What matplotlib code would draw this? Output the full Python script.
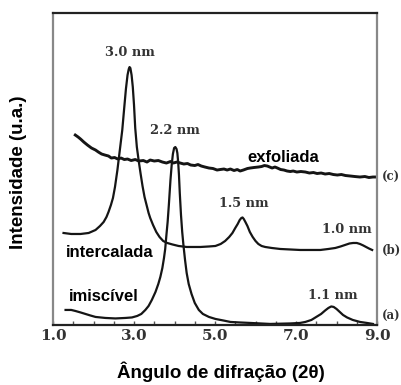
import numpy as np
import matplotlib
matplotlib.use('Agg')
import matplotlib.pyplot as plt
from matplotlib.ticker import MultipleLocator, FixedLocator

# Curve (a) imiscivel
a_x = [1.31, 1.45, 1.55, 1.68, 1.80, 1.92, 2.05, 2.29, 2.54, 2.79, 2.95, 3.08, 3.18, 3.28, 3.36,
       3.44, 3.53, 3.60, 3.65, 3.70, 3.74, 3.77, 3.80, 3.83, 3.86, 3.90, 3.93, 3.96, 3.99, 4.02,
       4.05, 4.07, 4.09, 4.11, 4.13, 4.16, 4.19, 4.22, 4.26, 4.30, 4.35, 4.42, 4.50, 4.60, 4.70,
       4.85, 5.01, 5.20, 5.38, 5.60, 5.87, 6.36, 6.86, 7.10, 7.23, 7.38, 7.50, 7.62, 7.72, 7.80,
       7.87, 7.93, 8.00, 8.08, 8.16, 8.26, 8.40, 8.58, 8.75, 8.90]
a_y = [15, 15, 14, 12.5, 11, 9.5, 8, 7, 6.5, 7, 7.5, 9, 11, 15, 19,
       25, 33, 41, 48, 57, 67, 76, 90, 103, 120, 145, 160, 171, 177, 178,
       176, 172, 163, 150, 132, 110, 93, 80, 65, 52, 41, 31, 22, 15, 11,
       8, 6, 4.5, 3, 2.5, 2, 1, 1.5, 2, 3, 5, 8, 11, 14.5, 17,
       18.5, 18, 16, 13, 10, 7.5, 5, 3, 2, 1]

# Curve (b) intercalada
b_x = [1.26, 1.45, 1.68, 1.88, 2.05, 2.16, 2.25, 2.32, 2.37, 2.43, 2.48, 2.53, 2.59, 2.65, 2.71,
       2.76, 2.80, 2.84, 2.87, 2.89, 2.91, 2.94, 2.97, 3.00, 3.03, 3.07, 3.12, 3.16, 3.21, 3.26,
       3.31, 3.36, 3.40, 3.47, 3.55, 3.63, 3.72, 3.82, 3.95, 4.10, 4.30, 4.64, 4.85, 5.01, 5.14,
       5.25, 5.35, 5.43, 5.50, 5.56, 5.61, 5.65, 5.68, 5.71, 5.75, 5.80, 5.86, 5.93, 6.00, 6.07,
       6.15, 6.24, 6.40, 6.61, 7.10, 7.60, 7.80, 7.97, 8.10, 8.21, 8.32, 8.41, 8.50, 8.58, 8.66,
       8.73, 8.80, 8.88]
b_y = [92, 91, 91, 92, 95, 99, 103, 108, 113, 120, 127, 138, 155, 175, 195,
       218, 236, 250, 256, 258, 257, 250, 238, 220, 197, 178, 163, 152, 139, 128,
       120, 112, 107, 100, 93, 88, 84, 82, 80.5, 79, 78, 78, 78.5, 79, 81,
       84, 88, 92, 97, 101, 105, 107, 107.5, 106, 103, 99, 93, 88, 84, 81,
       79, 78, 77, 76, 75, 75, 76, 77, 78.5, 80, 81.5, 82, 82, 81, 79.5,
       78, 76.5, 75]

# Curve (c) exfoliada
c_x = [1.55, 1.62, 1.68, 1.76, 1.85, 1.95, 2.05, 2.12, 2.20, 2.28, 2.37, 2.44, 2.52, 2.60, 2.68,
       2.76, 2.84, 2.93, 3.03, 3.12, 3.23, 3.32, 3.40, 3.50, 3.60, 3.70, 3.80, 3.90, 3.97, 4.06,
       4.14, 4.23, 4.32, 4.40, 4.50, 4.58, 4.66, 4.75, 4.85, 4.95, 5.05, 5.13, 5.22, 5.30, 5.38,
       5.47, 5.55, 5.62, 5.70, 5.80, 5.87, 5.96, 6.07, 6.15, 6.22, 6.29, 6.35, 6.41, 6.48, 6.54,
       6.62, 6.70, 6.78, 6.86, 6.93, 7.02, 7.12, 7.23, 7.33, 7.43, 7.52, 7.62, 7.72, 7.82, 7.92,
       8.02, 8.12, 8.22, 8.34, 8.45, 8.58, 8.70, 8.80, 8.90, 9.00]
c_y = [190, 188, 186, 183, 180, 177, 175, 173, 171, 170, 169, 167, 167.5, 166, 167,
       165.5, 166, 164.5, 165.5, 164, 164.5, 163, 165, 164, 164.5, 163, 162, 163.5, 162, 163,
       162, 161, 161.5, 160, 159.5, 160.5, 159, 158, 157, 156.5, 155, 155.5, 156, 155, 156,
       154.5, 155.5, 154, 155, 156.5, 157, 157.5, 158, 158.5, 159.5, 159, 158, 157, 158, 157,
       155.5, 155, 154, 153.5, 154, 153, 153.5, 153, 152, 152.5, 151.5, 152, 151, 151.5, 150.5,
       150, 150.5, 149.5, 149, 148.5, 148, 148.5, 147.5, 148, 148]

tick_vals = [1.0, 3.0, 5.0, 7.0, 9.0]
tick_text = ['1.0', '3.0', '5.0', '7.0', '9.0']

fig = plt.figure(figsize=(4.01, 3.85), dpi=100)
ax = fig.add_axes([0.1322, 0.156, 0.808, 0.810])

line_col = '#151515'
ax.plot(a_x, a_y, color=line_col, lw=1.6, solid_joinstyle='round')
ax.plot(b_x, b_y, color=line_col, lw=1.6, solid_joinstyle='round')
ax.plot(c_x, c_y, color=line_col, lw=2.1, solid_joinstyle='round')

ax.set_xlim(1.0, 9.0)
ax.set_ylim(0, 312)
ax.set_yticks([])

ax.xaxis.set_major_locator(FixedLocator(tick_vals))
ax.xaxis.set_minor_locator(MultipleLocator(0.5))
ax.set_xticklabels(tick_text, fontfamily='DejaVu Serif', fontweight='bold', fontsize=11, color='#333333')
ax.tick_params(axis='x', which='both', direction='in', length=3, width=1, color='#555555', pad=3)

for side in ['top', 'bottom']:
    ax.spines[side].set_color('#222222')
    ax.spines[side].set_linewidth(1.6)
for side in ['left', 'right']:
    ax.spines[side].set_color('#888888')
    ax.spines[side].set_linewidth(1.6)

serif = dict(fontfamily='DejaVu Serif', fontweight='bold', fontsize=9.3, color='#333333',
             ha='center', va='center')
ax.text(2.91, 273, '3.0 nm', **serif)
ax.text(4.00, 195, '2.2 nm', **serif)
ax.text(5.70, 121, '1.5 nm', **serif)
ax.text(8.26, 95, '1.0 nm', **serif)
ax.text(7.92, 29, '1.1 nm', **serif)

side_lbl = dict(fontfamily='DejaVu Serif', fontweight='bold', fontsize=8.5, color='#333333',
                ha='left', va='center', clip_on=False)
ax.text(9.12, 148, '(c)', **side_lbl)
ax.text(9.12, 75, '(b)', **side_lbl)
ax.text(9.12, 8, '(a)', **side_lbl)

sans = dict(fontfamily='Liberation Sans', fontweight='bold', fontsize=12, color='black', va='center')
ax.text(6.68, 168, 'exfoliada', ha='center', **sans)
ax.text(1.31, 72, 'intercalada', ha='left', **sans)
ax.text(1.38, 28, 'imiscível', ha='left', **sans)

fig.text(0.552, 0.034, 'Ângulo de difração (2θ)', fontfamily='Liberation Sans', fontweight='bold',
         fontsize=13.5, ha='center', va='center')
fig.text(0.045, 0.552, 'Intensidade (u.a.)', fontfamily='Liberation Sans', fontweight='bold',
         fontsize=13.5, ha='center', va='center', rotation=90)

fig.savefig('out.png', dpi=100)
